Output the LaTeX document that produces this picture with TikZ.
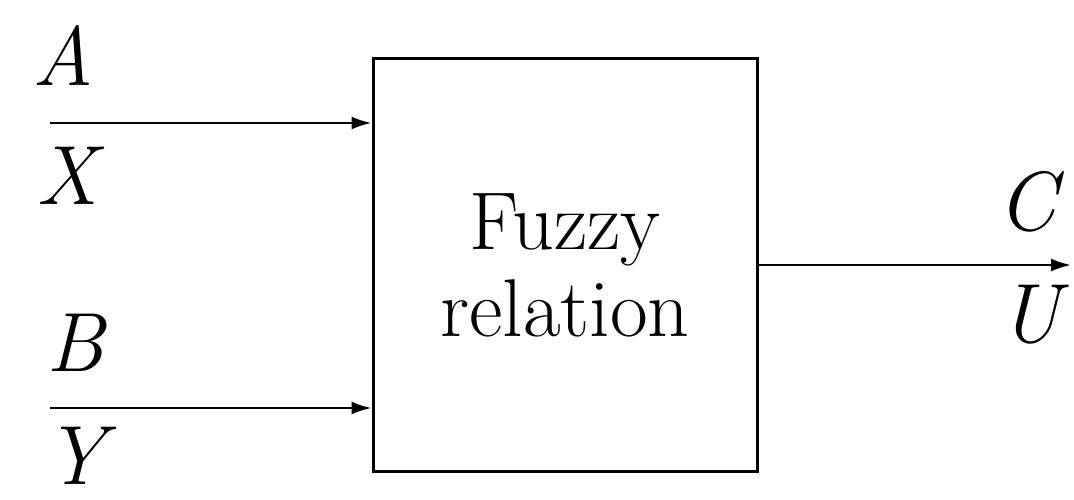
\documentclass[tikz,border=0pt]{standalone}
\usetikzlibrary{arrows.meta}
\begin{document}
\begin{tikzpicture}[x=0.5pt,y=-0.5pt,
  blockbox/.style={draw, line width=1.5pt, minimum width=192pt, minimum height=206.5pt,
    inner sep=0pt, align=center, font=\fontsize{41}{43.5}\selectfont},
  sig/.style={line width=1.2pt, -{Latex[length=10pt,width=6.5pt]}},
  varlabel/.style={anchor=base, inner sep=0pt, font=\fontsize{42}{45}\selectfont\itshape}]
\useasboundingbox (0,0) rectangle (1074,499);

% the relation block
\node[blockbox] (rel) at (565,265) {Fuzzy\\relation};

% free ends of the signal lines
\coordinate (inA) at (50,123);
\coordinate (inB) at (50,408);
\coordinate (outC) at (1071,265);

% inputs and output
\draw[sig] (inA) -- (inA -| rel.west);
\draw[sig] (inB) -- (inB -| rel.west);
\draw[sig] (rel.east) -- (outC);

% signal names above and universes below each line
\node[varlabel] (lA) at (63,85) {A};
\node[varlabel] (lX) at (67,204) {X};
\node[varlabel] (lB) at (75,371) {B};
\node[varlabel] (lY) at (75,484) {Y};
\node[varlabel] (lC) at (1027,230) {C};
\node[varlabel] (lU) at (1030,342) {U};
\end{tikzpicture}
\end{document}
